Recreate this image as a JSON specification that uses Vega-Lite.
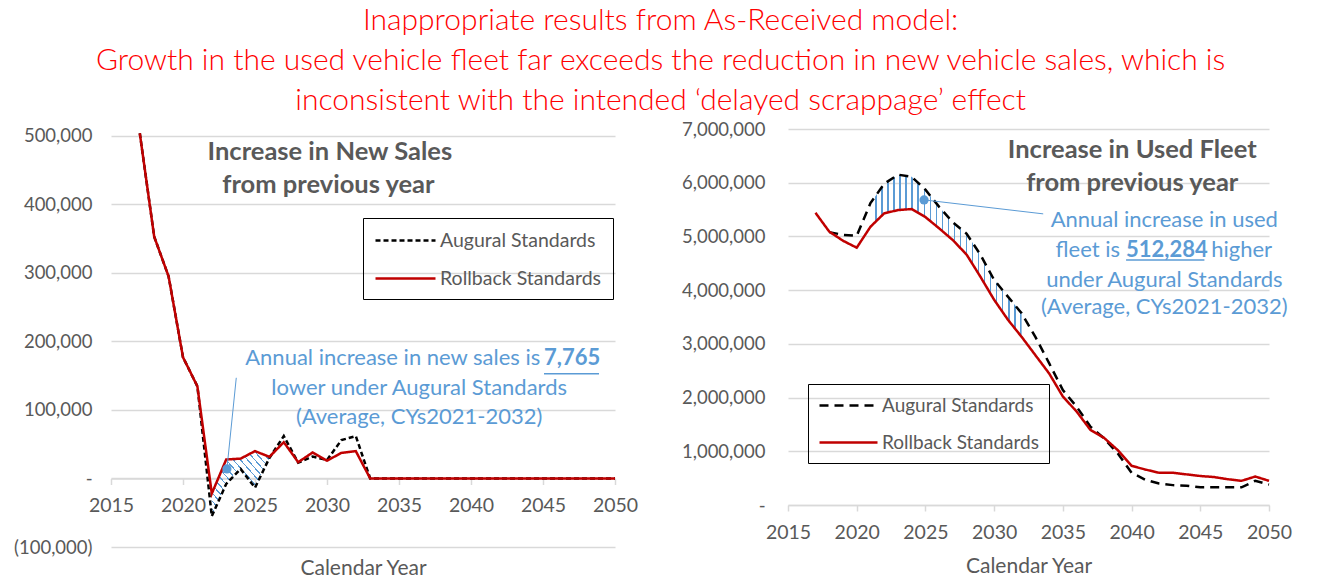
{
  "$schema": "https://vega.github.io/schema/vega-lite/v6.json",
  "background": "white",
  "padding": {"left": 13, "top": 6, "right": 10, "bottom": 4},
  "title": {
    "text": ["Inappropriate results from As-Received model:", "Growth in the used vehicle fleet far exceeds the reduction in new vehicle sales, which is", "inconsistent with the intended ‘delayed scrappage’ effect"],
    "color": "#FF0000", "font": "Lato", "fontSize": 30, "fontWeight": 300, "lineHeight": 40,
    "anchor": "middle", "frame": "bounds", "offset": 4, "dx": 8
  },
  "config": {"view": {"stroke": null}, "font": "Lato"},
  "datasets": {
    "left_lines": [
      {"year": 2017, "series": "Augural Standards", "v": 504000},
      {"year": 2018, "series": "Augural Standards", "v": 353000},
      {"year": 2019, "series": "Augural Standards", "v": 295000},
      {"year": 2020, "series": "Augural Standards", "v": 177000},
      {"year": 2021, "series": "Augural Standards", "v": 134500},
      {"year": 2022, "series": "Augural Standards", "v": -55000},
      {"year": 2023, "series": "Augural Standards", "v": -8000},
      {"year": 2024, "series": "Augural Standards", "v": 14000},
      {"year": 2025, "series": "Augural Standards", "v": -13500},
      {"year": 2026, "series": "Augural Standards", "v": 30000},
      {"year": 2027, "series": "Augural Standards", "v": 62000},
      {"year": 2028, "series": "Augural Standards", "v": 23000},
      {"year": 2029, "series": "Augural Standards", "v": 32000},
      {"year": 2030, "series": "Augural Standards", "v": 27000},
      {"year": 2031, "series": "Augural Standards", "v": 56000},
      {"year": 2032, "series": "Augural Standards", "v": 62000},
      {"year": 2033, "series": "Augural Standards", "v": 0},
      {"year": 2034, "series": "Augural Standards", "v": 0},
      {"year": 2035, "series": "Augural Standards", "v": 0},
      {"year": 2036, "series": "Augural Standards", "v": 0},
      {"year": 2037, "series": "Augural Standards", "v": 0},
      {"year": 2038, "series": "Augural Standards", "v": 0},
      {"year": 2039, "series": "Augural Standards", "v": 0},
      {"year": 2040, "series": "Augural Standards", "v": 0},
      {"year": 2041, "series": "Augural Standards", "v": 0},
      {"year": 2042, "series": "Augural Standards", "v": 0},
      {"year": 2043, "series": "Augural Standards", "v": 0},
      {"year": 2044, "series": "Augural Standards", "v": 0},
      {"year": 2045, "series": "Augural Standards", "v": 0},
      {"year": 2046, "series": "Augural Standards", "v": 0},
      {"year": 2047, "series": "Augural Standards", "v": 0},
      {"year": 2048, "series": "Augural Standards", "v": 0},
      {"year": 2049, "series": "Augural Standards", "v": 0},
      {"year": 2050, "series": "Augural Standards", "v": 0},
      {"year": 2017, "series": "Rollback Standards", "v": 504000},
      {"year": 2018, "series": "Rollback Standards", "v": 353000},
      {"year": 2019, "series": "Rollback Standards", "v": 295000},
      {"year": 2020, "series": "Rollback Standards", "v": 177000},
      {"year": 2021, "series": "Rollback Standards", "v": 134500},
      {"year": 2022, "series": "Rollback Standards", "v": -22000},
      {"year": 2023, "series": "Rollback Standards", "v": 27700},
      {"year": 2024, "series": "Rollback Standards", "v": 29000},
      {"year": 2025, "series": "Rollback Standards", "v": 40000},
      {"year": 2026, "series": "Rollback Standards", "v": 31600},
      {"year": 2027, "series": "Rollback Standards", "v": 53000},
      {"year": 2028, "series": "Rollback Standards", "v": 23800},
      {"year": 2029, "series": "Rollback Standards", "v": 38000},
      {"year": 2030, "series": "Rollback Standards", "v": 26000},
      {"year": 2031, "series": "Rollback Standards", "v": 37400},
      {"year": 2032, "series": "Rollback Standards", "v": 40000},
      {"year": 2033, "series": "Rollback Standards", "v": 0},
      {"year": 2034, "series": "Rollback Standards", "v": 0},
      {"year": 2035, "series": "Rollback Standards", "v": 0},
      {"year": 2036, "series": "Rollback Standards", "v": 0},
      {"year": 2037, "series": "Rollback Standards", "v": 0},
      {"year": 2038, "series": "Rollback Standards", "v": 0},
      {"year": 2039, "series": "Rollback Standards", "v": 0},
      {"year": 2040, "series": "Rollback Standards", "v": 0},
      {"year": 2041, "series": "Rollback Standards", "v": 0},
      {"year": 2042, "series": "Rollback Standards", "v": 0},
      {"year": 2043, "series": "Rollback Standards", "v": 0},
      {"year": 2044, "series": "Rollback Standards", "v": 0},
      {"year": 2045, "series": "Rollback Standards", "v": 0},
      {"year": 2046, "series": "Rollback Standards", "v": 0},
      {"year": 2047, "series": "Rollback Standards", "v": 0},
      {"year": 2048, "series": "Rollback Standards", "v": 0},
      {"year": 2049, "series": "Rollback Standards", "v": 0},
      {"year": 2050, "series": "Rollback Standards", "v": 0}
    ],
    "left_area": [
      {"year": 2022, "v": -55000, "v2": -22000},
      {"year": 2023, "v": -8000, "v2": 27700},
      {"year": 2024, "v": 14000, "v2": 29000},
      {"year": 2025, "v": -13500, "v2": 40000},
      {"year": 2026, "v": 30000, "v2": 31600}
    ],
    "left_leader": [{"year": 2023.05, "v": 14000, "year2": 2023.7, "v2": 147000}],
    "left_dot": [{"year": 2023.05, "v": 14000}],
    "left_ul": [{"year": 2045.07, "year2": 2048.89, "v": 153000}],
    "left_title": [
      {"year": 2030.2, "v": 477000, "t": "Increase in New Sales"},
      {"year": 2030.1, "v": 428400, "t": "from previous year"}
    ],
    "left_ann_c": [
      {"year": 2036.4, "v": 132100, "t": "lower under Augural Standards"},
      {"year": 2036.4, "v": 90200, "t": "(Average, CYs2021-2032)"}
    ],
    "left_ann_r": [{"year": 2044.81, "v": 175900, "t": "Annual increase in new sales is"}],
    "left_ann_b": [{"year": 2045.07, "v": 175900, "t": "7,765"}],
    "right_lines": [
      {"year": 2018, "series": "Augural Standards", "v": 5080000},
      {"year": 2019, "series": "Augural Standards", "v": 5030000},
      {"year": 2020, "series": "Augural Standards", "v": 5010000},
      {"year": 2021, "series": "Augural Standards", "v": 5620000},
      {"year": 2022, "series": "Augural Standards", "v": 5980000},
      {"year": 2023, "series": "Augural Standards", "v": 6150000},
      {"year": 2024, "series": "Augural Standards", "v": 6110000},
      {"year": 2025, "series": "Augural Standards", "v": 5870000},
      {"year": 2026, "series": "Augural Standards", "v": 5550000},
      {"year": 2027, "series": "Augural Standards", "v": 5260000},
      {"year": 2028, "series": "Augural Standards", "v": 5050000},
      {"year": 2029, "series": "Augural Standards", "v": 4660000},
      {"year": 2030, "series": "Augural Standards", "v": 4190000},
      {"year": 2031, "series": "Augural Standards", "v": 3880000},
      {"year": 2032, "series": "Augural Standards", "v": 3570000},
      {"year": 2033, "series": "Augural Standards", "v": 3130000},
      {"year": 2034, "series": "Augural Standards", "v": 2640000},
      {"year": 2035, "series": "Augural Standards", "v": 2140000},
      {"year": 2036, "series": "Augural Standards", "v": 1830000},
      {"year": 2037, "series": "Augural Standards", "v": 1460000},
      {"year": 2038, "series": "Augural Standards", "v": 1240000},
      {"year": 2039, "series": "Augural Standards", "v": 960000},
      {"year": 2040, "series": "Augural Standards", "v": 600000},
      {"year": 2041, "series": "Augural Standards", "v": 470000},
      {"year": 2042, "series": "Augural Standards", "v": 400000},
      {"year": 2043, "series": "Augural Standards", "v": 370000},
      {"year": 2044, "series": "Augural Standards", "v": 360000},
      {"year": 2045, "series": "Augural Standards", "v": 330000},
      {"year": 2046, "series": "Augural Standards", "v": 330000},
      {"year": 2047, "series": "Augural Standards", "v": 330000},
      {"year": 2048, "series": "Augural Standards", "v": 330000},
      {"year": 2049, "series": "Augural Standards", "v": 450000},
      {"year": 2050, "series": "Augural Standards", "v": 380000},
      {"year": 2017, "series": "Rollback Standards", "v": 5440000},
      {"year": 2018, "series": "Rollback Standards", "v": 5090000},
      {"year": 2019, "series": "Rollback Standards", "v": 4920000},
      {"year": 2020, "series": "Rollback Standards", "v": 4790000},
      {"year": 2021, "series": "Rollback Standards", "v": 5180000},
      {"year": 2022, "series": "Rollback Standards", "v": 5430000},
      {"year": 2023, "series": "Rollback Standards", "v": 5490000},
      {"year": 2024, "series": "Rollback Standards", "v": 5510000},
      {"year": 2025, "series": "Rollback Standards", "v": 5360000},
      {"year": 2026, "series": "Rollback Standards", "v": 5150000},
      {"year": 2027, "series": "Rollback Standards", "v": 4930000},
      {"year": 2028, "series": "Rollback Standards", "v": 4660000},
      {"year": 2029, "series": "Rollback Standards", "v": 4250000},
      {"year": 2030, "series": "Rollback Standards", "v": 3820000},
      {"year": 2031, "series": "Rollback Standards", "v": 3450000},
      {"year": 2032, "series": "Rollback Standards", "v": 3130000},
      {"year": 2033, "series": "Rollback Standards", "v": 2790000},
      {"year": 2034, "series": "Rollback Standards", "v": 2450000},
      {"year": 2035, "series": "Rollback Standards", "v": 2020000},
      {"year": 2036, "series": "Rollback Standards", "v": 1740000},
      {"year": 2037, "series": "Rollback Standards", "v": 1400000},
      {"year": 2038, "series": "Rollback Standards", "v": 1250000},
      {"year": 2039, "series": "Rollback Standards", "v": 1020000},
      {"year": 2040, "series": "Rollback Standards", "v": 730000},
      {"year": 2041, "series": "Rollback Standards", "v": 660000},
      {"year": 2042, "series": "Rollback Standards", "v": 600000},
      {"year": 2043, "series": "Rollback Standards", "v": 600000},
      {"year": 2044, "series": "Rollback Standards", "v": 570000},
      {"year": 2045, "series": "Rollback Standards", "v": 540000},
      {"year": 2046, "series": "Rollback Standards", "v": 520000},
      {"year": 2047, "series": "Rollback Standards", "v": 480000},
      {"year": 2048, "series": "Rollback Standards", "v": 450000},
      {"year": 2049, "series": "Rollback Standards", "v": 530000},
      {"year": 2050, "series": "Rollback Standards", "v": 450000}
    ],
    "right_area": [
      {"year": 2021, "v": 5620000, "v2": 5180000},
      {"year": 2022, "v": 5980000, "v2": 5430000},
      {"year": 2023, "v": 6150000, "v2": 5490000},
      {"year": 2024, "v": 6110000, "v2": 5510000},
      {"year": 2025, "v": 5870000, "v2": 5360000},
      {"year": 2026, "v": 5550000, "v2": 5150000},
      {"year": 2027, "v": 5260000, "v2": 4930000},
      {"year": 2028, "v": 5050000, "v2": 4660000},
      {"year": 2029, "v": 4660000, "v2": 4250000},
      {"year": 2030, "v": 4190000, "v2": 3820000},
      {"year": 2031, "v": 3880000, "v2": 3450000},
      {"year": 2032, "v": 3570000, "v2": 3130000}
    ],
    "right_leader": [{"year": 2024.9, "v": 5680000, "year2": 2033.57, "v2": 5420000}],
    "right_dot": [{"year": 2024.9, "v": 5680000}],
    "right_ul": [{"year": 2039.6, "year2": 2045.3, "v": 4560000}],
    "right_title": [
      {"year": 2040.05, "v": 6610000, "t": "Increase in Used Fleet"},
      {"year": 2040.05, "v": 5990000, "t": "from previous year"}
    ],
    "right_ann_c": [
      {"year": 2042.38, "v": 5306000, "t": "Annual increase in used"},
      {"year": 2042.39, "v": 4189000, "t": "under Augural Standards"},
      {"year": 2042.38, "v": 3690000, "t": "(Average, CYs2021-2032)"}
    ],
    "right_ann_r": [{"year": 2039.16, "v": 4748000, "t": "fleet is"}],
    "right_ann_b": [{"year": 2039.6, "v": 4748000, "t": "512,284"}],
    "right_ann_l": [{"year": 2045.79, "v": 4748000, "t": "higher"}]
  },
  "spacing": 173,
  "bounds": "flush",
  "resolve": {
    "scale": {"x": "independent", "y": "independent", "color": "independent", "strokeDash": "independent"},
    "legend": {"color": "independent", "strokeDash": "independent"}
  },
  "hconcat": [
    {
      "width": 504,
      "height": 418,
      "encoding": {
        "x": {
          "field": "year", "type": "quantitative",
          "scale": {"domain": [2015, 2050], "nice": false, "zero": false},
          "axis": {
            "title": "Calendar Year", "values": [2015, 2020, 2025, 2030, 2035, 2040, 2045, 2050], "format": "d",
            "grid": false, "offset": -68.5, "labelFlush": false,
            "domainColor": "#D9D9D9", "domainWidth": 1.5, "tickColor": "#D9D9D9", "tickWidth": 1.5, "tickSize": 6,
            "labelPadding": 12, "labelFont": "Lato", "labelFontSize": 19.5, "labelColor": "#595959",
            "titleFont": "Lato", "titleFontSize": 21, "titleFontWeight": "normal", "titleColor": "#595959", "titlePadding": 42
          }
        },
        "y": {
          "field": "v", "type": "quantitative",
          "scale": {"domain": [-100000, 510200], "nice": false, "zero": false},
          "axis": {
            "title": null, "values": [-100000, 0, 100000, 200000, 300000, 400000, 500000],
            "labelExpr": "datum.value == 0 ? '-\u2002\u2004' : (datum.value < 0 ? '(' + format(-datum.value, ',') + ')' : format(datum.value, ',') + '\u2005')",
            "domain": false, "ticks": false, "grid": true, "gridColor": "#D9D9D9", "gridWidth": 1.5,
            "labelPadding": 19, "labelFont": "Lato", "labelFontSize": 18.5, "labelColor": "#595959"
          }
        }
      },
      "layer": [
        {
          "data": {"name": "left_area"},
          "mark": {
            "type": "area",
            "fill": {
              "gradient": "linear", "x1": 0, "y1": 1, "x2": 1, "y2": 0,
              "stops": [
                {"offset": 0, "color": "rgba(91,155,213,0)"}, {"offset": 0.05, "color": "rgba(91,155,213,0)"}, {"offset": 0.05, "color": "#5B9BD5"}, {"offset": 0.0625, "color": "#5B9BD5"},
                {"offset": 0.0625, "color": "rgba(91,155,213,0)"}, {"offset": 0.1125, "color": "rgba(91,155,213,0)"}, {"offset": 0.1125, "color": "#5B9BD5"}, {"offset": 0.125, "color": "#5B9BD5"},
                {"offset": 0.125, "color": "rgba(91,155,213,0)"}, {"offset": 0.175, "color": "rgba(91,155,213,0)"}, {"offset": 0.175, "color": "#5B9BD5"}, {"offset": 0.1875, "color": "#5B9BD5"},
                {"offset": 0.1875, "color": "rgba(91,155,213,0)"}, {"offset": 0.2375, "color": "rgba(91,155,213,0)"}, {"offset": 0.2375, "color": "#5B9BD5"}, {"offset": 0.25, "color": "#5B9BD5"},
                {"offset": 0.25, "color": "rgba(91,155,213,0)"}, {"offset": 0.3, "color": "rgba(91,155,213,0)"}, {"offset": 0.3, "color": "#5B9BD5"}, {"offset": 0.3125, "color": "#5B9BD5"},
                {"offset": 0.3125, "color": "rgba(91,155,213,0)"}, {"offset": 0.3625, "color": "rgba(91,155,213,0)"}, {"offset": 0.3625, "color": "#5B9BD5"}, {"offset": 0.375, "color": "#5B9BD5"},
                {"offset": 0.375, "color": "rgba(91,155,213,0)"}, {"offset": 0.425, "color": "rgba(91,155,213,0)"}, {"offset": 0.425, "color": "#5B9BD5"}, {"offset": 0.4375, "color": "#5B9BD5"},
                {"offset": 0.4375, "color": "rgba(91,155,213,0)"}, {"offset": 0.4875, "color": "rgba(91,155,213,0)"}, {"offset": 0.4875, "color": "#5B9BD5"}, {"offset": 0.5, "color": "#5B9BD5"},
                {"offset": 0.5, "color": "rgba(91,155,213,0)"}, {"offset": 0.55, "color": "rgba(91,155,213,0)"}, {"offset": 0.55, "color": "#5B9BD5"}, {"offset": 0.5625, "color": "#5B9BD5"},
                {"offset": 0.5625, "color": "rgba(91,155,213,0)"}, {"offset": 0.6125, "color": "rgba(91,155,213,0)"}, {"offset": 0.6125, "color": "#5B9BD5"}, {"offset": 0.625, "color": "#5B9BD5"},
                {"offset": 0.625, "color": "rgba(91,155,213,0)"}, {"offset": 0.675, "color": "rgba(91,155,213,0)"}, {"offset": 0.675, "color": "#5B9BD5"}, {"offset": 0.6875, "color": "#5B9BD5"},
                {"offset": 0.6875, "color": "rgba(91,155,213,0)"}, {"offset": 0.7375, "color": "rgba(91,155,213,0)"}, {"offset": 0.7375, "color": "#5B9BD5"}, {"offset": 0.75, "color": "#5B9BD5"},
                {"offset": 0.75, "color": "rgba(91,155,213,0)"}, {"offset": 0.8, "color": "rgba(91,155,213,0)"}, {"offset": 0.8, "color": "#5B9BD5"}, {"offset": 0.8125, "color": "#5B9BD5"},
                {"offset": 0.8125, "color": "rgba(91,155,213,0)"}, {"offset": 0.8625, "color": "rgba(91,155,213,0)"}, {"offset": 0.8625, "color": "#5B9BD5"}, {"offset": 0.875, "color": "#5B9BD5"},
                {"offset": 0.875, "color": "rgba(91,155,213,0)"}, {"offset": 0.925, "color": "rgba(91,155,213,0)"}, {"offset": 0.925, "color": "#5B9BD5"}, {"offset": 0.9375, "color": "#5B9BD5"},
                {"offset": 0.9375, "color": "rgba(91,155,213,0)"}, {"offset": 0.9875, "color": "rgba(91,155,213,0)"}, {"offset": 0.9875, "color": "#5B9BD5"}, {"offset": 1, "color": "#5B9BD5"}
              ]
            }
          },
          "encoding": {"y2": {"field": "v2"}}
        },
        {
          "data": {"name": "left_lines"},
          "mark": {"type": "line", "strokeWidth": 2.5},
          "encoding": {
            "color": {
              "field": "series", "type": "nominal",
              "scale": {"domain": ["Augural Standards", "Rollback Standards"], "range": ["#000000", "#C00000"]},
              "legend": {
                "title": null, "orient": "none", "legendX": 252, "legendY": 89,
                "strokeColor": "#000000", "padding": 11, "rowPadding": 17,
                "symbolType": "M-3,0H3", "symbolSize": 400, "symbolOffset": 20, "symbolStrokeWidth": 2.5, "labelOffset": 23, "labelLimit": 400,
                "labelFont": "Lato", "labelFontSize": 19.5, "labelColor": "#595959"
              }
            },
            "strokeDash": {
              "field": "series", "type": "nominal",
              "scale": {"domain": ["Augural Standards", "Rollback Standards"], "range": [[5, 3], [1, 0]]}
            }
          }
        },
        {
          "data": {"name": "left_leader"},
          "mark": {"type": "rule", "color": "#5B9BD5", "strokeWidth": 1},
          "encoding": {"x2": {"field": "year2"}, "y2": {"field": "v2"}}
        },
        {
          "data": {"name": "left_dot"},
          "mark": {"type": "circle", "color": "#5B9BD5", "size": 85, "opacity": 1}
        },
        {
          "data": {"name": "left_ul"},
          "mark": {"type": "rule", "color": "#5B9BD5", "strokeWidth": 1.5},
          "encoding": {"x2": {"field": "year2"}}
        },
        {
          "data": {"name": "left_title"},
          "mark": {"type": "text", "font": "Lato", "fontWeight": "bold", "fontSize": 25.5, "color": "#595959", "align": "center", "baseline": "middle"},
          "encoding": {"text": {"field": "t"}}
        },
        {
          "data": {"name": "left_ann_c"},
          "mark": {"type": "text", "font": "Lato", "fontSize": 22, "color": "#5B9BD5", "align": "center", "baseline": "middle"},
          "encoding": {"text": {"field": "t"}}
        },
        {
          "data": {"name": "left_ann_r"},
          "mark": {"type": "text", "font": "Lato", "fontSize": 22, "color": "#5B9BD5", "align": "right", "baseline": "middle"},
          "encoding": {"text": {"field": "t"}}
        },
        {
          "data": {"name": "left_ann_b"},
          "mark": {"type": "text", "font": "Lato", "fontSize": 22, "fontWeight": "bold", "color": "#5B9BD5", "align": "left", "baseline": "middle"},
          "encoding": {"text": {"field": "t"}}
        }
      ]
    },
    {
      "width": 481,
      "height": 376,
      "encoding": {
        "x": {
          "field": "year", "type": "quantitative",
          "scale": {"domain": [2015, 2050], "nice": false, "zero": false},
          "axis": {
            "title": "Calendar Year", "values": [2015, 2020, 2025, 2030, 2035, 2040, 2045, 2050], "format": "d",
            "grid": false, "labelFlush": false,
            "domainColor": "#D9D9D9", "domainWidth": 1.5, "tickColor": "#D9D9D9", "tickWidth": 1.5, "tickSize": 6,
            "labelPadding": 12, "labelFont": "Lato", "labelFontSize": 19.5, "labelColor": "#595959",
            "titleFont": "Lato", "titleFontSize": 21, "titleFontWeight": "normal", "titleColor": "#595959", "titlePadding": 14
          }
        },
        "y": {
          "field": "v", "type": "quantitative",
          "scale": {"domain": [0, 7000000], "nice": false, "zero": false},
          "axis": {
            "title": null, "values": [0, 1000000, 2000000, 3000000, 4000000, 5000000, 6000000, 7000000],
            "labelExpr": "datum.value == 0 ? '-\u2002' : format(datum.value, ',')",
            "domain": false, "ticks": false, "grid": true, "gridColor": "#D9D9D9", "gridWidth": 1.5,
            "labelPadding": 23, "labelFont": "Lato", "labelFontSize": 18.5, "labelColor": "#595959"
          }
        }
      },
      "layer": [
        {
          "data": {"name": "right_area"},
          "mark": {
            "type": "area",
            "fill": {
              "gradient": "linear", "x1": 0, "y1": 0, "x2": 1, "y2": 0,
              "stops": [
                {"offset": 0, "color": "rgba(91,155,213,0)"}, {"offset": 0.031, "color": "rgba(91,155,213,0)"}, {"offset": 0.031, "color": "#5B9BD5"}, {"offset": 0.04, "color": "#5B9BD5"},
                {"offset": 0.04, "color": "rgba(91,155,213,0)"}, {"offset": 0.071, "color": "rgba(91,155,213,0)"}, {"offset": 0.071, "color": "#5B9BD5"}, {"offset": 0.08, "color": "#5B9BD5"},
                {"offset": 0.08, "color": "rgba(91,155,213,0)"}, {"offset": 0.111, "color": "rgba(91,155,213,0)"}, {"offset": 0.111, "color": "#5B9BD5"}, {"offset": 0.12, "color": "#5B9BD5"},
                {"offset": 0.12, "color": "rgba(91,155,213,0)"}, {"offset": 0.151, "color": "rgba(91,155,213,0)"}, {"offset": 0.151, "color": "#5B9BD5"}, {"offset": 0.16, "color": "#5B9BD5"},
                {"offset": 0.16, "color": "rgba(91,155,213,0)"}, {"offset": 0.191, "color": "rgba(91,155,213,0)"}, {"offset": 0.191, "color": "#5B9BD5"}, {"offset": 0.2, "color": "#5B9BD5"},
                {"offset": 0.2, "color": "rgba(91,155,213,0)"}, {"offset": 0.231, "color": "rgba(91,155,213,0)"}, {"offset": 0.231, "color": "#5B9BD5"}, {"offset": 0.24, "color": "#5B9BD5"},
                {"offset": 0.24, "color": "rgba(91,155,213,0)"}, {"offset": 0.271, "color": "rgba(91,155,213,0)"}, {"offset": 0.271, "color": "#5B9BD5"}, {"offset": 0.28, "color": "#5B9BD5"},
                {"offset": 0.28, "color": "rgba(91,155,213,0)"}, {"offset": 0.311, "color": "rgba(91,155,213,0)"}, {"offset": 0.311, "color": "#5B9BD5"}, {"offset": 0.32, "color": "#5B9BD5"},
                {"offset": 0.32, "color": "rgba(91,155,213,0)"}, {"offset": 0.351, "color": "rgba(91,155,213,0)"}, {"offset": 0.351, "color": "#5B9BD5"}, {"offset": 0.36, "color": "#5B9BD5"},
                {"offset": 0.36, "color": "rgba(91,155,213,0)"}, {"offset": 0.391, "color": "rgba(91,155,213,0)"}, {"offset": 0.391, "color": "#5B9BD5"}, {"offset": 0.4, "color": "#5B9BD5"},
                {"offset": 0.4, "color": "rgba(91,155,213,0)"}, {"offset": 0.431, "color": "rgba(91,155,213,0)"}, {"offset": 0.431, "color": "#5B9BD5"}, {"offset": 0.44, "color": "#5B9BD5"},
                {"offset": 0.44, "color": "rgba(91,155,213,0)"}, {"offset": 0.471, "color": "rgba(91,155,213,0)"}, {"offset": 0.471, "color": "#5B9BD5"}, {"offset": 0.48, "color": "#5B9BD5"},
                {"offset": 0.48, "color": "rgba(91,155,213,0)"}, {"offset": 0.511, "color": "rgba(91,155,213,0)"}, {"offset": 0.511, "color": "#5B9BD5"}, {"offset": 0.52, "color": "#5B9BD5"},
                {"offset": 0.52, "color": "rgba(91,155,213,0)"}, {"offset": 0.551, "color": "rgba(91,155,213,0)"}, {"offset": 0.551, "color": "#5B9BD5"}, {"offset": 0.56, "color": "#5B9BD5"},
                {"offset": 0.56, "color": "rgba(91,155,213,0)"}, {"offset": 0.591, "color": "rgba(91,155,213,0)"}, {"offset": 0.591, "color": "#5B9BD5"}, {"offset": 0.6, "color": "#5B9BD5"},
                {"offset": 0.6, "color": "rgba(91,155,213,0)"}, {"offset": 0.631, "color": "rgba(91,155,213,0)"}, {"offset": 0.631, "color": "#5B9BD5"}, {"offset": 0.64, "color": "#5B9BD5"},
                {"offset": 0.64, "color": "rgba(91,155,213,0)"}, {"offset": 0.671, "color": "rgba(91,155,213,0)"}, {"offset": 0.671, "color": "#5B9BD5"}, {"offset": 0.68, "color": "#5B9BD5"},
                {"offset": 0.68, "color": "rgba(91,155,213,0)"}, {"offset": 0.711, "color": "rgba(91,155,213,0)"}, {"offset": 0.711, "color": "#5B9BD5"}, {"offset": 0.72, "color": "#5B9BD5"},
                {"offset": 0.72, "color": "rgba(91,155,213,0)"}, {"offset": 0.751, "color": "rgba(91,155,213,0)"}, {"offset": 0.751, "color": "#5B9BD5"}, {"offset": 0.76, "color": "#5B9BD5"},
                {"offset": 0.76, "color": "rgba(91,155,213,0)"}, {"offset": 0.791, "color": "rgba(91,155,213,0)"}, {"offset": 0.791, "color": "#5B9BD5"}, {"offset": 0.8, "color": "#5B9BD5"},
                {"offset": 0.8, "color": "rgba(91,155,213,0)"}, {"offset": 0.831, "color": "rgba(91,155,213,0)"}, {"offset": 0.831, "color": "#5B9BD5"}, {"offset": 0.84, "color": "#5B9BD5"},
                {"offset": 0.84, "color": "rgba(91,155,213,0)"}, {"offset": 0.871, "color": "rgba(91,155,213,0)"}, {"offset": 0.871, "color": "#5B9BD5"}, {"offset": 0.88, "color": "#5B9BD5"},
                {"offset": 0.88, "color": "rgba(91,155,213,0)"}, {"offset": 0.911, "color": "rgba(91,155,213,0)"}, {"offset": 0.911, "color": "#5B9BD5"}, {"offset": 0.92, "color": "#5B9BD5"},
                {"offset": 0.92, "color": "rgba(91,155,213,0)"}, {"offset": 0.951, "color": "rgba(91,155,213,0)"}, {"offset": 0.951, "color": "#5B9BD5"}, {"offset": 0.96, "color": "#5B9BD5"},
                {"offset": 0.96, "color": "rgba(91,155,213,0)"}, {"offset": 0.991, "color": "rgba(91,155,213,0)"}, {"offset": 0.991, "color": "#5B9BD5"}, {"offset": 1, "color": "#5B9BD5"}
              ]
            }
          },
          "encoding": {"y2": {"field": "v2"}}
        },
        {
          "data": {"name": "right_lines"},
          "mark": {"type": "line", "strokeWidth": 2.5},
          "encoding": {
            "color": {
              "field": "series", "type": "nominal",
              "scale": {"domain": ["Augural Standards", "Rollback Standards"], "range": ["#000000", "#C00000"]},
              "legend": {
                "title": null, "orient": "none", "legendX": 20, "legendY": 255,
                "strokeColor": "#000000", "padding": 10, "rowPadding": 15,
                "symbolType": "M-2.9,0H2.9", "symbolSize": 400, "symbolOffset": 19, "symbolStrokeWidth": 2.5, "labelOffset": 22, "labelLimit": 400,
                "labelFont": "Lato", "labelFontSize": 19, "labelColor": "#595959"
              }
            },
            "strokeDash": {
              "field": "series", "type": "nominal",
              "scale": {"domain": ["Augural Standards", "Rollback Standards"], "range": [[9, 6], [1, 0]]}
            }
          }
        },
        {
          "data": {"name": "right_leader"},
          "mark": {"type": "rule", "color": "#5B9BD5", "strokeWidth": 1},
          "encoding": {"x2": {"field": "year2"}, "y2": {"field": "v2"}}
        },
        {
          "data": {"name": "right_dot"},
          "mark": {"type": "circle", "color": "#5B9BD5", "size": 85, "opacity": 1}
        },
        {
          "data": {"name": "right_ul"},
          "mark": {"type": "rule", "color": "#5B9BD5", "strokeWidth": 1.5},
          "encoding": {"x2": {"field": "year2"}}
        },
        {
          "data": {"name": "right_title"},
          "mark": {"type": "text", "font": "Lato", "fontWeight": "bold", "fontSize": 25.5, "color": "#595959", "align": "center", "baseline": "middle"},
          "encoding": {"text": {"field": "t"}}
        },
        {
          "data": {"name": "right_ann_c"},
          "mark": {"type": "text", "font": "Lato", "fontSize": 22, "color": "#5B9BD5", "align": "center", "baseline": "middle"},
          "encoding": {"text": {"field": "t"}}
        },
        {
          "data": {"name": "right_ann_r"},
          "mark": {"type": "text", "font": "Lato", "fontSize": 22, "color": "#5B9BD5", "align": "right", "baseline": "middle"},
          "encoding": {"text": {"field": "t"}}
        },
        {
          "data": {"name": "right_ann_b"},
          "mark": {"type": "text", "font": "Lato", "fontSize": 22, "fontWeight": "bold", "color": "#5B9BD5", "align": "left", "baseline": "middle"},
          "encoding": {"text": {"field": "t"}}
        },
        {
          "data": {"name": "right_ann_l"},
          "mark": {"type": "text", "font": "Lato", "fontSize": 22, "color": "#5B9BD5", "align": "left", "baseline": "middle"},
          "encoding": {"text": {"field": "t"}}
        }
      ]
    }
  ]
}
